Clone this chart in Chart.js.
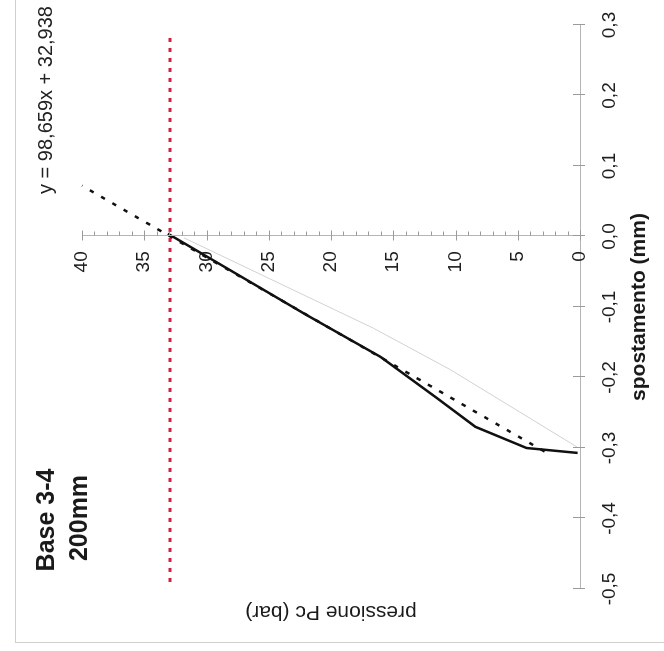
<!DOCTYPE html>
<html>
<head>
<meta charset="utf-8">
<script src="https://cdn.jsdelivr.net/npm/chart.js@4/dist/chart.umd.min.js"></script>
<style>
  html, body { margin: 0; padding: 0; background: #fff; overflow: hidden; }
  body { width: 664px; height: 651px; position: relative; }
  #frame { position: absolute; left: 15px; top: -2px; width: 660px; height: 645px;
           border-left: 1px solid #cfcfcf; border-bottom: 1px solid #cfcfcf; box-sizing: border-box; }
  #wrap { position: absolute; left: 0; top: 0; width: 651px; height: 664px;
          transform-origin: 0 0; transform: translateY(651px) rotate(-90deg); }
</style>
</head>
<body>
<div id="frame"></div>
<div id="wrap"><canvas id="c" width="651" height="664"></canvas></div>
<script>
// ---- data (spostamento in mm, pressione in bar) ----
const solidX = [0.004, -0.111, -0.171, -0.229, -0.270, -0.300, -0.307];
const solidP = [33.1, 22.0, 16.0, 11.5, 8.4, 4.3, 0.2];
const trendX = [-0.305, 0.072];
const trendP = [2.85, 40.0];
const faintX = [-0.002, -0.130, -0.189, -0.299];
const faintP = [31.8, 16.6, 10.4, 0.2];
const refX = [-0.49, 0.29];
const refP = [32.94, 32.94];
const xTickValues = [-0.5, -0.4, -0.3, -0.2, -0.1, 0.0, 0.1, 0.2, 0.3];
const xTickLabels = ['-0,5', '-0,4', '-0,3', '-0,2', '-0,1', '0,0', '0,1', '0,2', '0,3'];
const yTickValues = [0, 5, 10, 15, 20, 25, 30, 35, 40];
const yTickLabels = ['0', '5', '10', '15', '20', '25', '30', '35', '40'];
const chartTitle = ['Base 3-4', '200mm'];
const equation = 'y = 98,659x + 32,938';
const xTitle = 'spostamento (mm)';
const yTitle = 'pressione Pc (bar)';
const yAxisAt = 0;          // pressure axis crosses spostamento = 0
const yLabelAnchor = -0.021; // where the right edge of the pressure labels sits

const pts = (xs, ys) => xs.map((x, i) => ({x: x, y: ys[i]}));
const FONT = "'Liberation Sans', Arial, Helvetica, sans-serif";

const axisTicks = {
  id: 'axisTicks',
  afterDraw(chart) {
    const ctx = chart.ctx, xs = chart.scales.x, ys = chart.scales.y;
    const ax = Math.round(xs.getPixelForValue(yAxisAt)) + 0.5, ay = ys.getPixelForValue(0);
    ctx.save();
    ctx.strokeStyle = '#b5b5b5';
    ctx.lineWidth = 1;
    ctx.beginPath();
    ctx.moveTo(ax, ys.getPixelForValue(ys.max));
    ctx.lineTo(ax, ys.getPixelForValue(ys.min));
    ctx.stroke();
    ctx.strokeStyle = '#9a9a9a';
    ctx.beginPath();
    ys.ticks.forEach(t => {
      const py = Math.round(ys.getPixelForValue(t.value)) + 0.5;
      const major = Math.abs(t.value % 5) < 1e-9;
      ctx.moveTo(ax - (major ? 5 : 0), py);
      ctx.lineTo(ax + (major ? 5 : 4), py);
    });
    xs.ticks.forEach(t => {
      const px = Math.round(xs.getPixelForValue(t.value)) + 0.5;
      ctx.moveTo(px, ay - 7);
      ctx.lineTo(px, ay + 5);
    });
    ctx.stroke();
    ctx.restore();
  }
};

const notes = {
  id: 'notes',
  afterDraw(chart, args, opts) {
    const ctx = chart.ctx;
    ctx.save();
    opts.items.forEach(n => {
      ctx.font = n.font;
      ctx.fillStyle = n.color;
      ctx.textAlign = 'center';
      ctx.textBaseline = 'middle';
      ctx.fillText(n.text, n.x, n.y);
    });
    ctx.restore();
  }
};

new Chart(document.getElementById('c'), {
  type: 'line',
  data: {
    datasets: [
      { label: 'trend', data: pts(trendX, trendP), borderColor: '#111', borderWidth: 2.5,
        borderDash: [4.5, 8.5], pointRadius: 0, order: 1, clip: false },
      { label: 'misura', data: pts(solidX, solidP), borderColor: '#111', borderWidth: 2.5,
        pointRadius: 0, order: 2, clip: false },
      { label: 'rif', data: pts(refX, refP), borderColor: '#d21f3c', borderWidth: 3,
        borderDash: [4, 6], pointRadius: 0, order: 3, clip: false },
      { label: 'prova', data: pts(faintX, faintP), borderColor: '#d2d2d2', borderWidth: 1,
        pointRadius: 0, order: 4, clip: false }
    ]
  },
  options: {
    responsive: false,
    animation: false,
    devicePixelRatio: 1,
    layout: { padding: { top: 82, right: 25, bottom: 0, left: 0 } },
    plugins: {
      legend: { display: false },
      tooltip: { enabled: false },
      notes: { items: [
        { text: chartTitle[0], x: 131, y: 47, font: 'bold 25px ' + FONT, color: '#1a1a1a' },
        { text: chartTitle[1], x: 133, y: 80, font: 'bold 25px ' + FONT, color: '#1a1a1a' },
        { text: equation, x: 551, y: 46, font: '20px ' + FONT, color: '#222' }
      ] }
    },
    scales: {
      x: {
        type: 'linear', position: 'bottom', min: -0.5, max: 0.3,
        afterBuildTicks: s => { s.ticks = xTickValues.map(v => ({value: v})); },
        afterFit: s => { s.height = 84; },
        grid: { display: false },
        border: { display: true, color: '#b5b5b5', width: 1 },
        ticks: {
          padding: 10, color: '#1e1e1e', font: { family: FONT, size: 19 }, maxRotation: 0,
          autoSkip: false,
          callback: v => { const i = xTickValues.findIndex(t => Math.abs(t - v) < 1e-9); return i >= 0 ? xTickLabels[i] : ''; }
        },
        title: { display: true, text: xTitle, color: '#1a1a1a',
                 font: { family: FONT, size: 21, weight: 'bold' }, padding: { top: 0, bottom: 12 } }
      },
      y: {
        type: 'linear', position: { x: yLabelAnchor }, min: 0, max: 40,
        ticks: {
          stepSize: 1, autoSkip: false, color: '#1e1e1e', font: { family: FONT, size: 19 },
          callback: v => { const i = yTickValues.indexOf(v); return i >= 0 ? yTickLabels[i] : ''; }
        },
        grid: { display: false },
        border: { display: false }
      },
      y2: {
        type: 'linear', position: 'left', display: true,
        afterFit: s => { s.width = 62; },
        grid: { display: false },
        border: { display: false },
        ticks: { display: false },
        title: { display: true, text: yTitle, color: '#1a1a1a',
                 font: { family: FONT, size: 21 }, padding: { top: 27, bottom: 0 } }
      }
    }
  },
  plugins: [axisTicks, notes]
});
</script>
</body>
</html>
